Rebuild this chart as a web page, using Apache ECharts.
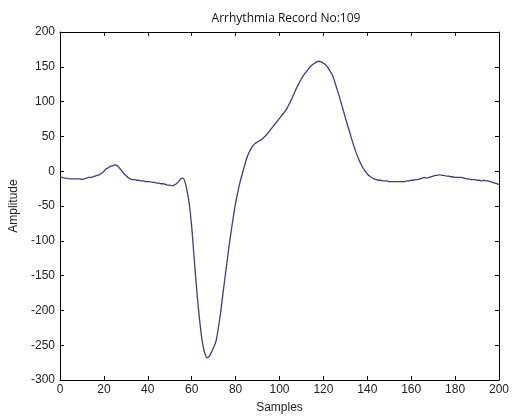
<!DOCTYPE html>
<html><head><meta charset="utf-8">
<script src="https://cdn.jsdelivr.net/npm/echarts@6/dist/echarts.min.js"></script>
<style>html,body{margin:0;padding:0;background:#fff}#c{width:512px;height:419px}</style>
</head><body><div id="c"></div>
<script>
var title = "Arrhythmia Record No:109";
var xName = "Samples";
var yName = "Amplitude";
var xTicks = [0,20,40,60,80,100,120,140,160,180,200];
var yTicks = [-300,-250,-200,-150,-100,-50,0,50,100,150,200];
var amplitude = [
-8,-9,-10,-10,-11,-11,-11,-11,-11,-11,
-12,-11,-10,-9,-9,-8,-7,-6,-5,-3,
0,3,5,7,8,9,8,5,1,-3,
-6,-9,-11,-12,-12,-13,-13,-14,-14,-15,
-15,-15,-16,-16,-17,-17,-18,-18,-19,-20,
-20,-21,-20,-18,-15,-11,-10,-16,-30,-50,
-80,-120,-160,-195,-225,-248,-262,-268,-266,-260,
-253,-245,-228,-207,-182,-157,-132,-108,-86,-65,
-46,-30,-16,-4,7,18,26,32,37,40,
42,44,46,49,52,56,60,64,68,72,
76,80,84,88,94,100,107,114,121,127,
133,138,142,146,150,153,155,157,158,157,
155,153,149,144,139,130,120,110,99,88,
77,66,56,45,35,26,18,11,5,0,
-4,-7,-9,-11,-12,-13,-13,-14,-14,-14,
-15,-15,-15,-15,-15,-15,-15,-15,-14,-14,
-13,-13,-12,-12,-11,-10,-9,-10,-9,-8,
-7,-6,-6,-5,-6,-6,-7,-7,-8,-8,
-9,-9,-9,-9,-10,-11,-11,-12,-12,-12,
-13,-13,-14,-13,-14,-14,-15,-16,-17,-18,
-19
];
var samples = amplitude.map(function(v,i){return i;});
var pts = samples.map(function(s,i){return [s, amplitude[i]];});

var chart = echarts.init(document.getElementById('c'), null, {renderer:'canvas'});
var lab = {color:'#222', fontFamily:'Liberation Sans, Arial, sans-serif', fontSize:12};
var axLine = {show:true, onZero:false, lineStyle:{color:'#000', width:1}};
var tick = {show:true, inside:true, length:4, lineStyle:{color:'#000'}};
chart.setOption({
  animation:false,
  title:{text:title, left:281, top:8, textAlign:'center',
    textStyle:{fontSize:12, fontWeight:'normal', color:'#111', fontFamily:'Open Sans, Noto Sans, sans-serif'}},
  grid:{left:60, right:11, top:32, bottom:39, show:false},
  xAxis:[
    {type:'value', min:0, max:200, interval:20, position:'bottom',
     name:xName, nameLocation:'middle', nameGap:22,
     nameTextStyle:{color:'#222', fontSize:12, fontFamily:'Liberation Sans, Arial, sans-serif'},
     axisLine:axLine, axisTick:tick, splitLine:{show:false},
     axisLabel:Object.assign({margin:4}, lab)},
    {type:'value', min:0, max:200, interval:20, position:'top',
     axisLine:axLine, axisTick:tick, splitLine:{show:false}, axisLabel:{show:false}}
  ],
  yAxis:[
    {type:'value', min:-300, max:200, interval:50, position:'left',
     name:yName, nameLocation:'middle', nameGap:40, nameRotate:90,
     nameTextStyle:{color:'#222', fontSize:12, fontFamily:'Liberation Sans, Arial, sans-serif'},
     axisLine:axLine, axisTick:tick, splitLine:{show:false},
     axisLabel:Object.assign({margin:5}, lab)},
    {type:'value', min:-300, max:200, interval:50, position:'right',
     axisLine:axLine, axisTick:tick, splitLine:{show:false}, axisLabel:{show:false}}
  ],
  series:[{type:'line', data:pts, showSymbol:false, smooth:0.3,
    lineStyle:{color:'#3d3d85', width:1.3}}]
});
</script></body></html>
